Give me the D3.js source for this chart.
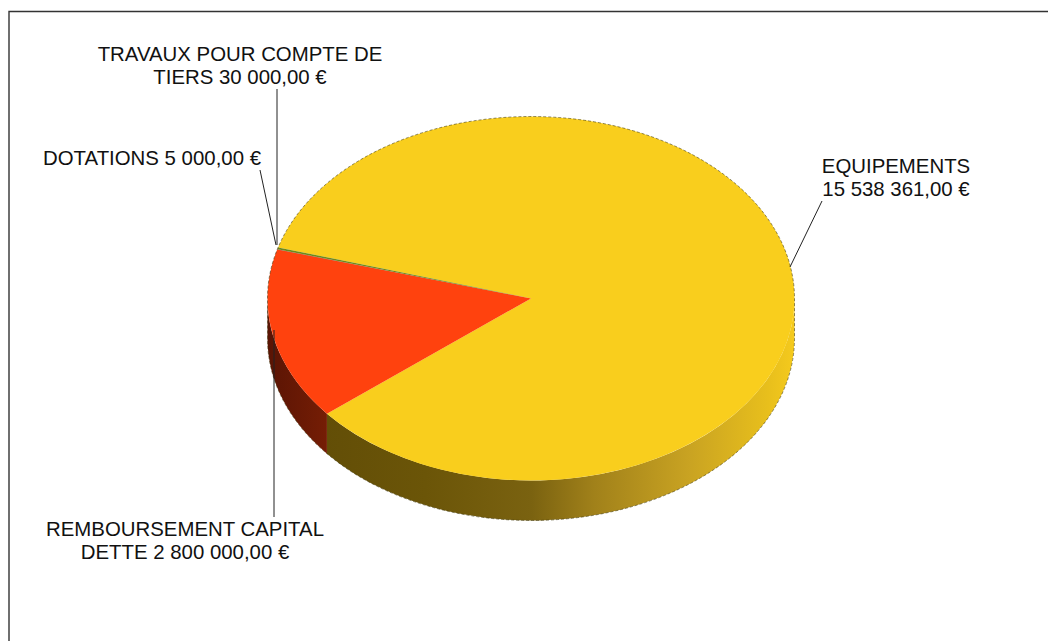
<!DOCTYPE html>
<html><head><meta charset="utf-8">
<script src="https://cdn.jsdelivr.net/npm/d3@7/dist/d3.min.js"></script>
<style>html,body{margin:0;padding:0;background:#fff}svg{display:block}</style>
</head><body><svg id="c" width="1048" height="641"></svg>
<script>
const categories = ["EQUIPEMENTS","REMBOURSEMENT CAPITAL DETTE","DOTATIONS","TRAVAUX POUR COMPTE DE TIERS"];
const values = [15538361,2800000,5000,30000];
const topColors = ["#f9ce1d","#ff420e","#7e0021","#6f8a1a"];
const labelLines = [["EQUIPEMENTS","15 538 361,00 €"],["REMBOURSEMENT CAPITAL","DETTE 2 800 000,00 €"],["DOTATIONS 5 000,00 €"],["TRAVAUX POUR COMPTE DE","TIERS 30 000,00 €"]];
const labelPos = [[896,173],[185,536],[152,165],[240,61]];
const leaders = [[[822,201],[790,267]],[[274,517],[274,330]],[[260,170],[276,245]],[[277,89],[277,245]]];

const W=1048,H=641, cx=531, cy=298.5, rx=263.5, ry=182, depth=40;
const svg=d3.select("#c");
const defs=svg.append("defs");
svg.append("path").attr("d",`M9,${H}L9,11.5L${W},11.5`).attr("fill","none").attr("stroke","#333").attr("stroke-width",1.4);

const pie=d3.pie().sort(null).startAngle(-73.7*Math.PI/180).endAngle((360-73.7)*Math.PI/180);
const arcs=pie(values);
const px=d3.scaleLinear().domain([-1,1]).range([cx-rx,cx+rx]);
const py=d3.scaleLinear().domain([-1,1]).range([cy-ry,cy+ry]);
const ptX=a=>px(Math.sin(a)), ptY=a=>py(-Math.cos(a));

const gy=defs.append("linearGradient").attr("id","gy").attr("gradientUnits","userSpaceOnUse").attr("x1",cx-rx).attr("x2",cx+rx).attr("y1",0).attr("y2",0);
[[0,"#5e4a06"],[.3,"#6b5508"],[.5,"#7a6210"],[.62,"#a1811a"],[.8,"#c9a322"],[.95,"#e8bf1c"],[1,"#f5ca1d"]].forEach(s=>gy.append("stop").attr("offset",s[0]).attr("stop-color",s[1]));
const gr=defs.append("linearGradient").attr("id","gr").attr("gradientUnits","userSpaceOnUse").attr("x1",cx-rx).attr("x2",cx-rx+70).attr("y1",0).attr("y2",0);
[[0,"#5a1404"],[1,"#7a1f05"]].forEach(s=>gr.append("stop").attr("offset",s[0]).attr("stop-color",s[1]));
const sideFill=["url(#gy)","url(#gr)","#2b4e0e","#3f0010"];

function sidePath(a0,a1){
  const lo=Math.max(a0,Math.PI/2), hi=Math.min(a1,3*Math.PI/2);
  const lo2=Math.max(a0-2*Math.PI,Math.PI/2), hi2=Math.min(a1-2*Math.PI,3*Math.PI/2);
  let s=[lo,hi]; if(hi<=lo){s=[lo2,hi2]; if(hi2<=lo2) return null;}
  return `M${ptX(s[0])},${ptY(s[0])}A${rx},${ry} 0 0 1 ${ptX(s[1])},${ptY(s[1])}L${ptX(s[1])},${ptY(s[1])+depth}A${rx},${ry} 0 0 0 ${ptX(s[0])},${ptY(s[0])+depth}Z`;
}
svg.append("g").selectAll("path").data(arcs).join("path")
 .attr("d",d=>sidePath(d.startAngle,d.endAngle)).attr("fill",(d,i)=>sideFill[i]);

const arcGen=d3.arc().innerRadius(0).outerRadius(rx);
svg.append("g").attr("transform",`translate(${cx},${cy}) scale(1,${ry/rx})`).selectAll("path").data(arcs).join("path")
 .attr("d",d=>arcGen(d)).attr("fill",(d,i)=>topColors[i]);

// aliased silhouette only
svg.append("path").attr("fill","none").attr("stroke","#3a3208").attr("stroke-width",.8).attr("stroke-dasharray","3 2").attr("stroke-opacity",.7)
 .attr("d",`M${cx-rx},${cy+depth}L${cx-rx},${cy}A${rx},${ry} 0 0 1 ${cx+rx},${cy}L${cx+rx},${cy+depth}A${rx},${ry} 0 0 1 ${cx-rx},${cy+depth}`);

svg.append("g").selectAll("line").data(leaders).join("line")
 .attr("x1",d=>d[0][0]).attr("y1",d=>d[0][1]).attr("x2",d=>d[1][0]).attr("y2",d=>d[1][1])
 .attr("stroke","#222").attr("stroke-width",1);

const t=svg.append("g").attr("font-family","'Liberation Sans'").attr("font-size",20.4).attr("fill","#111").attr("text-anchor","middle");
labelLines.forEach((ls,i)=>{
  ls.forEach((l,j)=>t.append("text").attr("x",labelPos[i][0]).attr("y",labelPos[i][1]+j*23).text(l));
});
</script></body></html>
